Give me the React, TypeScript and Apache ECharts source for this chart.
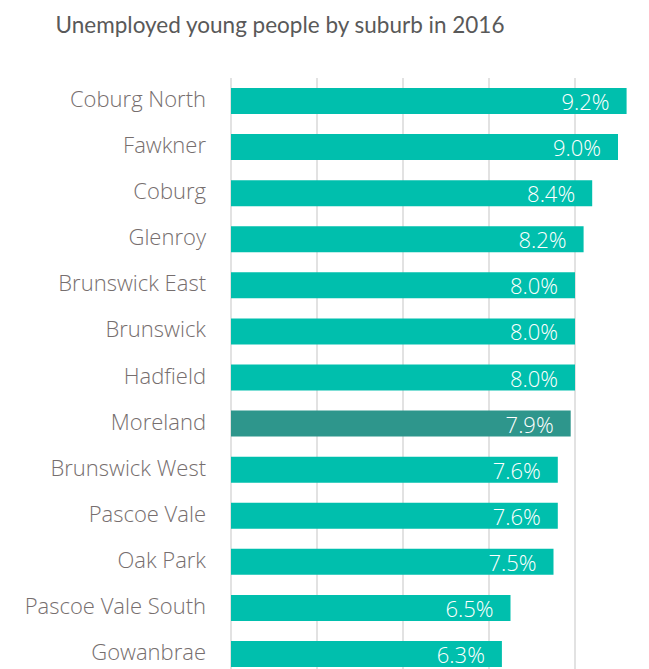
import React, { useEffect, useRef } from "react";
import * as echarts from "echarts";

const categories = [
  "Coburg North",
  "Fawkner",
  "Coburg",
  "Glenroy",
  "Brunswick East",
  "Brunswick",
  "Hadfield",
  "Moreland",
  "Brunswick West",
  "Pascoe Vale",
  "Oak Park",
  "Pascoe Vale South",
  "Gowanbrae",
];
const values = [9.2, 9.0, 8.4, 8.2, 8.0, 8.0, 8.0, 7.9, 7.6, 7.6, 7.5, 6.5, 6.3];
const highlight = "Moreland";
const titleText = "Unemployed young people by suburb in 2016";

export default function App() {
  const ref = useRef<HTMLDivElement>(null);
  useEffect(() => {
    if (!ref.current) return;
    const chart = echarts.init(ref.current, null, { renderer: "svg" });
    chart.setOption({
      animation: false,
      backgroundColor: "#ffffff",
      title: {
        text: titleText,
        left: 275,
        textAlign: "center",
        top: 8,
        textStyle: {
          fontFamily: "Lato",
          fontSize: 22.5,
          fontWeight: "normal",
          color: "#595959",
        },
      },
      grid: { left: 231, right: 0, top: 78, bottom: 0, containLabel: false },
      xAxis: {
        type: "value",
        min: 0,
        max: 10,
        interval: 2,
        axisLabel: { show: false },
        axisLine: { show: false },
        axisTick: { show: false },
        splitLine: { show: true, lineStyle: { color: "#d9d9d9", width: 1.5 } },
      },
      yAxis: {
        type: "category",
        data: categories,
        inverse: true,
        axisLine: { show: false },
        axisTick: { show: false },
        axisLabel: {
          fontFamily: "Open Sans",
          fontWeight: 300,
          fontSize: 22,
          color: "#766e6e",
          margin: 25,
          verticalAlign: "bottom",
          lineHeight: 6,
        },
      },
      series: [
        {
          type: "bar",
          barWidth: 26,
          data: values.map((v, i) => ({
            value: v,
            itemStyle: { color: categories[i] === highlight ? "#2e968c" : "#00bfad" },
          })),
          label: {
            show: true,
            position: "insideRight",
            distance: 17,
            formatter: (p: any) => p.value.toFixed(1) + "%",
            fontFamily: "Open Sans",
            fontWeight: 300,
            fontSize: 22,
            color: "#ffffff",
          },
        },
      ],
    });
    return () => chart.dispose();
  }, []);
  return (
    <div style={{ position: "absolute", left: 0, top: 0, width: 649, height: 669, overflow: "hidden" }}>
      <div ref={ref} style={{ width: 661, height: 677 }} />
    </div>
  );
}
